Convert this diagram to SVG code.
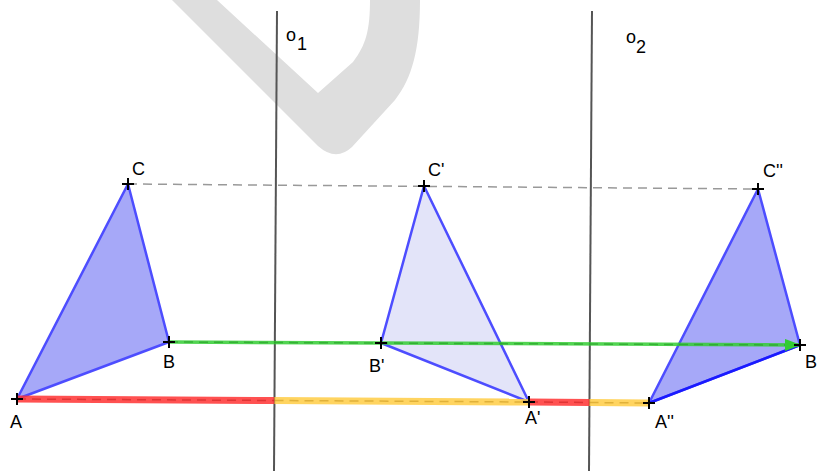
<svg xmlns="http://www.w3.org/2000/svg" width="817" height="471" viewBox="0 0 817 471">
<defs>
<style>
.lbl{font-family:"Liberation Sans",Arial,sans-serif;font-size:18px;fill:#000}
.axis{stroke:#555;stroke-width:2;fill:none}
.tri{stroke:#4d4dff;stroke-width:2.5;stroke-linejoin:round}
.pt{stroke:#000;stroke-width:2;fill:none}
.red{stroke:#ff3333;stroke-opacity:0.85;stroke-width:7;fill:none}
.yel{stroke:#ffcc44;stroke-opacity:0.85;stroke-width:7;fill:none}
.dash{stroke-dasharray:9,6;stroke-width:1.5;fill:none}
</style>
<marker id="arr" viewBox="0 0 16 12" refX="15" refY="6" markerWidth="16" markerHeight="12" markerUnits="userSpaceOnUse" orient="auto">
<path d="M0,0 L16,6 L0,12 Z" fill="#33cc33"/>
</marker>
<path id="cross" d="M-6,0 H6 M0,-6 V6"/>
</defs>
<rect width="817" height="471" fill="#fff"/>
<path id="watermark" d="M172,0 L318,146 Q336,162 352,147 L395,100 C412,78 420,50 420,0 L370,0 C370,30 366,45 353,62 L318,93 L217,0 Z" fill="#dedede"/>
<g id="o1">
<line x1="277" y1="11" x2="274" y2="471" class="axis"/>
<text class="lbl" x="286" y="41">o</text>
<text class="lbl" x="297" y="50">1</text>
</g>
<g id="o2">
<line x1="592" y1="11" x2="589" y2="471" class="axis"/>
<text class="lbl" x="626" y="43">o</text>
<text class="lbl" x="636" y="53">2</text>
</g>
<g id="triangle-ABC">
<polygon points="17,399 169,342 128,184" fill="#a6a8f8" class="tri"/>
</g>
<g id="triangle-A1B1C1">
<polygon points="529,402 381,343 424,186" fill="#e3e4f9" class="tri"/>
</g>
<g id="triangle-A2B2C2">
<polygon points="649,403 800,345 758,189" fill="#a6a8f8" class="tri"/>
<line x1="649" y1="403" x2="800" y2="345" stroke="#1a1aff" stroke-width="2.5"/>
</g>
<g id="connectors">
<line x1="128" y1="184" x2="758" y2="189" stroke="#999" class="dash"/>
<line x1="17" y1="399" x2="274.5" y2="400.5" class="red"/>
<line x1="274.5" y1="400.5" x2="529" y2="402" class="yel"/>
<line x1="529" y1="402" x2="589.5" y2="402.5" class="red"/>
<line x1="589.5" y1="402.5" x2="649" y2="403" class="yel"/>
<line x1="17" y1="399" x2="274.5" y2="400.5" stroke="#cc2222" class="dash" stroke-opacity="0.6"/>
<line x1="274.5" y1="400.5" x2="529" y2="402" stroke="#cc9922" class="dash" stroke-opacity="0.6"/>
<line x1="529" y1="402" x2="589.5" y2="402.5" stroke="#cc2222" class="dash" stroke-opacity="0.6"/>
<line x1="589.5" y1="402.5" x2="649" y2="403" stroke="#cc9922" class="dash" stroke-opacity="0.6"/>
<line x1="169" y1="342" x2="800" y2="345" stroke="#33cc33" stroke-width="3.5" stroke-opacity="0.85" marker-end="url(#arr)"/>
<line x1="169" y1="342" x2="785" y2="345" stroke="#229922" class="dash" stroke-opacity="0.6"/>
</g>
<g id="A"><use href="#cross" x="17" y="399" class="pt"/><text class="lbl" x="10" y="428">A</text></g>
<g id="B"><use href="#cross" x="169" y="342" class="pt"/><text class="lbl" x="163" y="368">B</text></g>
<g id="C"><use href="#cross" x="128" y="184" class="pt"/><text class="lbl" x="132" y="175">C</text></g>
<g id="A1"><use href="#cross" x="529" y="402" class="pt"/><text class="lbl" x="525" y="424">A'</text></g>
<g id="B1"><use href="#cross" x="381" y="343" class="pt"/><text class="lbl" x="369" y="372">B'</text></g>
<g id="C1"><use href="#cross" x="424" y="186" class="pt"/><text class="lbl" x="428" y="176">C'</text></g>
<g id="A2"><use href="#cross" x="649" y="403" class="pt"/><text class="lbl" x="655" y="428">A''</text></g>
<g id="B2"><use href="#cross" x="800" y="345" class="pt"/><text class="lbl" x="805" y="368">B</text></g>
<g id="C2"><use href="#cross" x="758" y="189" class="pt"/><text class="lbl" x="763" y="177">C''</text></g>
</svg>
